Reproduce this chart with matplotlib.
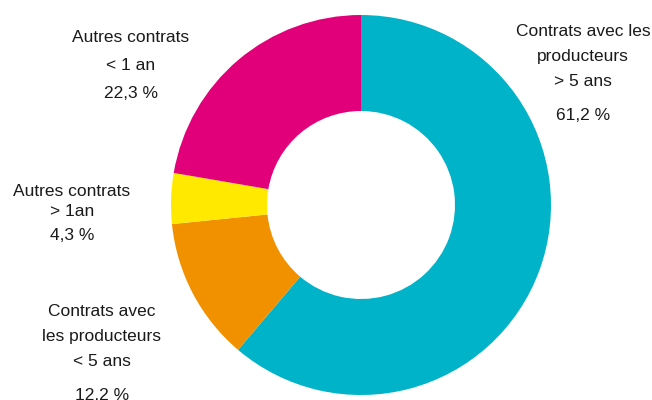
import matplotlib.pyplot as plt

# Données
labels = ["Contrats avec les\nproducteurs\n> 5 ans",
          "Contrats avec\nles producteurs\n< 5 ans",
          "Autres contrats\n> 1an",
          "Autres contrats\n< 1 an"]
valeurs = [61.2, 12.2, 4.3, 22.3]
couleurs = ["#00B3C8", "#F29100", "#FFE900", "#E2007A"]

def fmt(v):
    return f"{v:.1f}".replace(".", ",") + " %"

plt.rcParams['font.family'] = ['Liberation Sans', 'DejaVu Sans']

fig = plt.figure(figsize=(6.52, 4.0), dpi=100)
ax = fig.add_axes([0, 0, 1, 1])

ax.pie(valeurs, colors=couleurs, startangle=90, counterclock=False,
       center=(361, 195), radius=190,
       wedgeprops=dict(width=96, linewidth=0))

# la pie() remet les limites, on les fixe après
ax.set_xlim(0, 652)
ax.set_ylim(0, 400)
ax.set_aspect('equal')
ax.axis('off')

fs = 12.5
# étiquettes : (x, y haut, interligne, écart avant le %)
pos = [(583, 369, 25, 35),
       (102, 88, 25, 33),
       (72, 208, 19, 24),
       (131, 363, 28, 28)]
for lab, v, (x, y, dl, dp) in zip(labels, valeurs, pos):
    lignes = lab.split("\n")
    for i, l in enumerate(lignes):
        ax.text(x, y - i * dl, l, ha='center', va='center', fontsize=fs, color='#1a1a1a')
    ax.text(x, y - (len(lignes) - 1) * dl - dp, fmt(v), ha='center', va='center',
            fontsize=fs, color='#1a1a1a')

fig.savefig("out.png", dpi=100)
